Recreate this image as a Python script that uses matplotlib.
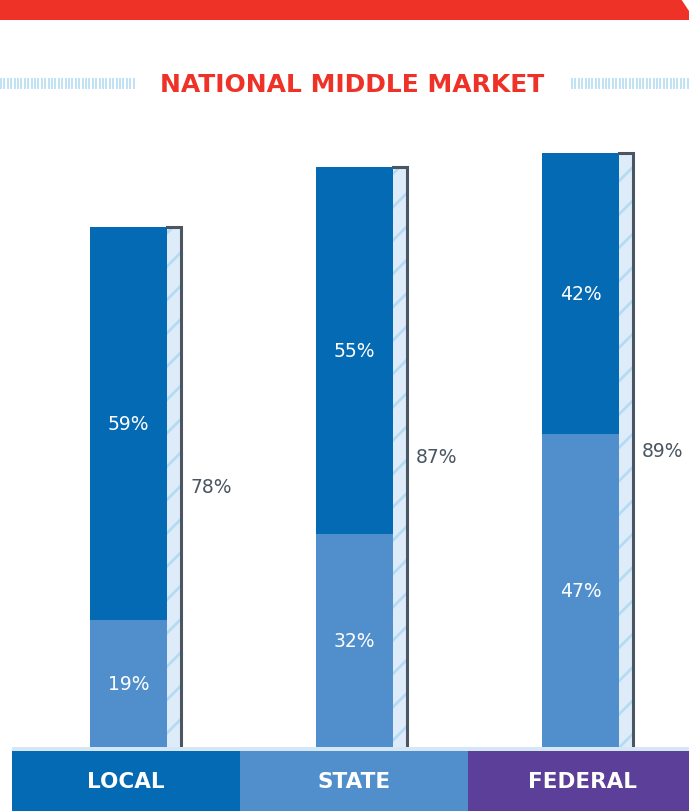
import numpy as np
import matplotlib.pyplot as plt
from matplotlib.patches import Polygon, Rectangle

plt.rcParams['font.family'] = ['DejaVu Sans']
plt.rcParams['hatch.linewidth'] = 2.0

categories = ['LOCAL', 'STATE', 'FEDERAL']
bottom_share = [19, 32, 47]
top_share = [59, 55, 42]
totals = [78, 87, 89]

title = 'NATIONAL MIDDLE MARKET'

RED = '#EE3227'
DARK = '#046AB4'
LIGHT = '#508FCB'
PURPLE = '#5B3F98'
GREY = '#4A5662'
HATCH_FILL = '#DDECF8'
HATCH_LINE = '#B5DBF4'

W, H = 689, 812
fig = plt.figure(figsize=(W / 100, H / 100), dpi=100)

# overlay axes in pixel coords for decoration
deco = fig.add_axes([0, 0, 1, 1])
deco.set_xlim(0, W)
deco.set_ylim(H, 0)
deco.axis('off')
deco.add_patch(Polygon([[0, 0], [681, 0], [689, 12], [689, 21], [0, 21]],
                       closed=True, color=RED, lw=0))
deco.vlines(np.arange(1, 136, 3.4), 79, 90, color=HATCH_LINE, lw=1.2)
deco.vlines(np.arange(572, 689, 3.4), 79, 90, color=HATCH_LINE, lw=1.2)
deco.text(352, 84.5, title, color=RED, fontsize=18, fontweight='bold',
          ha='center', va='center')
deco.add_patch(Rectangle((12, 747.5), W - 12, 4, color='#D5E6F5', lw=0))

# main bar axes: y in percent, 6.67 px per point, zero at pixel row 748
px_per = 6.67
ax = fig.add_axes([0, (H - 748) / H, 1, 748 / H])
ax.set_ylim(0, 748 / px_per)
gap = 226
ax.set_xlim(-128.5 / gap, (W - 128.5) / gap)
ax.axis('off')
ax.patch.set_alpha(0)

x = np.arange(len(categories))
bw = 77 / gap
hw = 14 / gap
hx = x + (bw + hw) / 2

ax.bar(hx, totals, width=hw, color=HATCH_FILL, edgecolor=HATCH_LINE,
       hatch='/', lw=0, zorder=1)
for xi, t in zip(hx, totals):
    ax.plot([xi - hw / 2, xi + hw / 2, xi + hw / 2], [t, t, 0],
            color=GREY, lw=2.2, solid_joinstyle='miter', zorder=3)
ax.bar(x, bottom_share, width=bw, color=LIGHT, lw=0, zorder=2)
ax.bar(x, top_share, width=bw, bottom=bottom_share, color=DARK, lw=0, zorder=2)

for xi, b, t in zip(x, bottom_share, top_share):
    ax.text(xi, b / 2, f'{b}%', color='white', fontsize=13.5, ha='center',
            va='center', zorder=4)
    ax.text(xi, b + t / 2, f'{t}%', color='white', fontsize=13.5, ha='center',
            va='center', zorder=4)
for xi, tot in zip(hx, totals):
    ax.text(xi + hw / 2 + 9 / gap, tot / 2, f'{tot}%', color=GREY,
            fontsize=13.5, ha='left', va='center')

# category band along the bottom
band = fig.add_axes([12 / W, 0, 684 / W, 60 / H])
band.set_xlim(-0.5, 2.5)
band.set_ylim(0, 1)
band.axis('off')
band.bar(x, [1, 1, 1], width=1, color=[DARK, LIGHT, PURPLE], lw=0)
for xi, c in zip(x, categories):
    band.text(xi, 0.5, c, color='white', fontsize=15.5, fontweight='bold',
              ha='center', va='center')

fig.savefig('out.png', dpi=100)
